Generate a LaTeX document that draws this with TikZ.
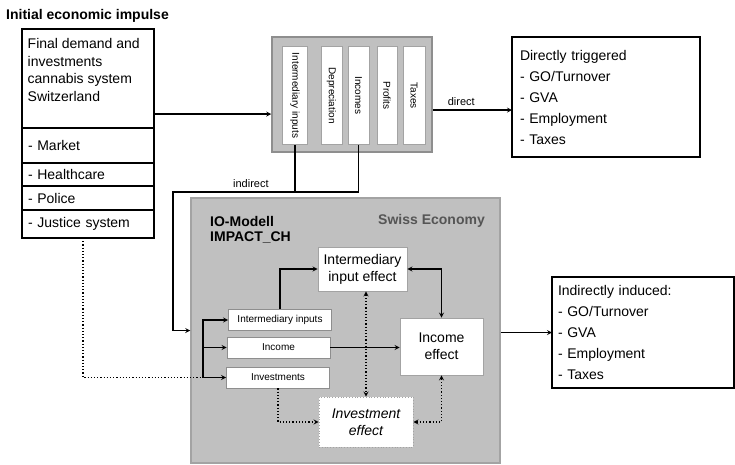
\documentclass[tikz,border=0pt]{standalone}
\usepackage{fontspec}
\usepackage{graphicx}
\setmainfont{Liberation Sans}
\usetikzlibrary{positioning}

\definecolor{panelgray}{HTML}{C0C0C0}
\definecolor{rimgray}{HTML}{A3A3A3}
\definecolor{framegray}{HTML}{8E8E8E}
\definecolor{labelgray}{HTML}{555555}

\begin{document}
\begin{tikzpicture}[
    x=1pt, y=-1pt,
    font=\fontsize{14}{17.5}\selectfont,
    heading/.style={font=\bfseries\fontsize{14}{15}\selectfont, inner sep=0pt},
    box/.style={draw, line width=1.3pt, fill=white, inner sep=0pt, outer sep=0pt},
    row/.style={box, text width=120pt, inner xsep=6pt, align=left,
                minimum width=132pt},
    listbox/.style={box, align=left, font=\fontsize{14}{21}\selectfont},
    panel/.style={draw=framegray, line width=1.5pt, fill=panelgray},
    econpanel/.style={draw=rimgray, line width=1.5pt, fill=panelgray},
    column/.style={draw=rimgray, line width=0.8pt, fill=white,
                   minimum height=98pt, inner sep=0pt,
                   font=\fontsize{10}{12}\selectfont},
    inbox/.style={draw=framegray, line width=0.8pt, fill=white,
                  minimum width=103pt, minimum height=21pt, inner sep=2pt,
                  font=\fontsize{10}{12}\selectfont},
    effect/.style={draw=rimgray, line width=0.8pt, fill=white, inner sep=3pt,
                   align=center, font=\fontsize{14}{17}\selectfont},
    lbl/.style={font=\fontsize{11}{13}\selectfont},
    conn/.style={line width=1.2pt},
    >=stealth
]

% page frame
\useasboundingbox (0,0) rectangle (735,464);

% vertical rows
\def\rowDemand{-35.5pt}
\def\rowDirect{-15.5pt}

% --- INITIAL IMPULSE ---
\node[heading, anchor=north west] (title) at (6,9.5) {Initial economic impulse};

\node[box, minimum width=132pt, minimum height=99pt] (demand) at (88,78.5) {};
\node[anchor=north west, align=left, inner sep=0pt] (demandtxt)
  at ([xshift=5.5pt,yshift=-9.5pt]demand.north west)
  {Final demand and\\investments\\cannabis system\\Switzerland};
\node[row, minimum height=35pt, below=0pt of demand] (market) {- Market};
\node[row, minimum height=23pt, below=0pt of market] (health) {- Healthcare};
\node[row, minimum height=24pt, below=0pt of health] (police) {- Police};
\node[row, minimum height=28pt, below=0pt of police] (justice) {- Justice system};

% --- VALUE ADDED COLUMNS ---
\node[panel, minimum width=160pt, minimum height=115pt] (valueadd) at (352,94.5) {};
\node[column, minimum width=25pt] (intcol)  at (295,95.5) {\rotatebox{-90}{Intermediary inputs}};
\node[column, minimum width=21pt] (depcol)  at (331.5,95.5) {\rotatebox{-90}{Depreciation}};
\node[column, minimum width=21pt] (inccol)  at (358.5,95.5) {\rotatebox{-90}{Incomes}};
\node[column, minimum width=20pt] (profcol) at (387,95.5) {\rotatebox{-90}{Profits}};
\node[column, minimum width=22pt] (taxcol)  at (414,95.5) {\rotatebox{-90}{Taxes}};

% --- DIRECT EFFECTS ---
\node[listbox, text width=172pt, inner xsep=8pt, minimum height=120pt] (direct)
  at (606,97) {Directly triggered\\- GO/Turnover\\- GVA\\- Employment\\- Taxes};

\draw[conn,->] ([yshift=\rowDemand]demand.east)
          -- ([yshift=\rowDemand]demand.east -| valueadd.west);

\draw[conn,->] ([yshift=\rowDirect]valueadd.east)
          -- ([yshift=\rowDirect]valueadd.east -| direct.west)
          node[lbl,above,pos=0.36] {direct};

% --- SWISS ECONOMY ---
\node[econpanel, minimum width=309pt, minimum height=265pt] (econ) at (345.5,330.5) {};
\node[heading, anchor=north west, align=left] (iomodel) at (210,216.5) {IO-Modell\\IMPACT\_CH};
\node[heading, text=labelgray, anchor=north east] (swiss) at (485,214.5) {Swiss Economy};

% --- INDIRECT FEED ---
\coordinate (bend) at (173,192);
\draw[conn] (intcol.south) -- (intcol.south |- bend);
\draw[conn,->] (inccol.south) |- node[lbl,above,pos=0.79] {indirect} (bend) |- (econ.west);

% --- MODEL INPUTS ---
\node[inbox] (ininter)  at (280,320) {Intermediary inputs};
\node[inbox] (inincome) at (278.5,347.5) {Income};
\node[inbox] (ininvest) at (278,377.5) {Investments};

\coordinate (fork) at (203,377.5);
\draw[conn,dotted] ([xshift=-5pt]justice.south) |- (fork);
\draw[conn,->] (fork) |- (ininter.west);
\draw[conn,->] (fork |- inincome.west) -- (inincome.west);
\draw[conn,->] (fork) -- (ininvest.west);

% --- EFFECTS ---
\node[effect, minimum width=89pt, minimum height=44pt] (intereff) at (362.5,269) {Intermediary\\input effect};
\node[effect, minimum width=83pt, minimum height=57pt] (incomeeff) at (441.5,346.5) {Income\\effect};
\node[effect, dotted, minimum width=94pt, minimum height=50pt,
      font=\itshape\fontsize{14}{17}\selectfont] (investeff) at (366,422) {Investment\\effect};

\draw[conn,->] (ininter.north) |- (intereff.west);
\draw[conn,->] (inincome.east) -- (inincome.east -| incomeeff.west);
\draw[conn,<->] (intereff.east) -| (incomeeff.north);
\draw[conn,<->,dotted] (investeff.north |- intereff.south) -- (investeff.north);
\draw[conn,->,dotted] (ininvest.south) |- (investeff.west);
\draw[conn,<->,dotted] (investeff.east) -| (incomeeff.south);

% --- INDIRECT EFFECTS ---
\node[listbox, text width=170pt, inner xsep=6pt, minimum height=111pt] (induced)
  at (643,332.5) {Indirectly induced:\\- GO/Turnover\\- GVA\\- Employment\\- Taxes};

\draw[conn,->] (econ.east |- induced.west) -- (induced.west);

\end{tikzpicture}
\end{document}
